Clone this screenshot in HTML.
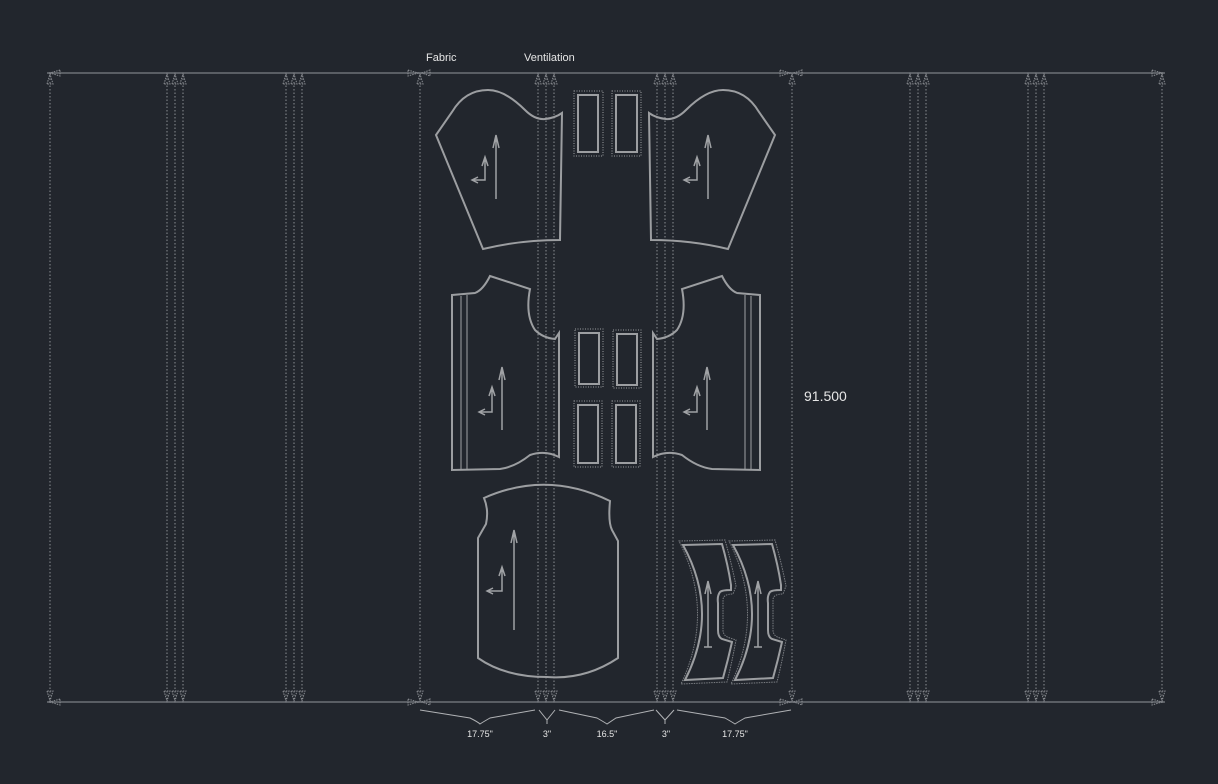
<!DOCTYPE html>
<html><head><meta charset="utf-8"><style>
html,body{margin:0;padding:0;background:#22262d;}
svg{display:block}
text{font-family:"Liberation Sans",sans-serif;fill:#e6e6e6}
</style></head><body>
<svg width="1218" height="784" viewBox="0 0 1218 784" xmlns="http://www.w3.org/2000/svg">
<rect width="1218" height="784" fill="#22262d"/>
<!-- main lines -->
<line x1="47" y1="73" x2="1165" y2="73" stroke="#5a5e64" stroke-width="2"/>
<line x1="47" y1="702" x2="1165" y2="702" stroke="#5a5e64" stroke-width="2"/>
<g stroke="#8a8d92" stroke-width="1" stroke-dasharray="1.5,2" fill="none">
<line x1="50" y1="75" x2="50" y2="700"/>
<line x1="167" y1="75" x2="167" y2="700"/><line x1="175" y1="75" x2="175" y2="700"/><line x1="183" y1="75" x2="183" y2="700"/>
<line x1="286" y1="75" x2="286" y2="700"/><line x1="294" y1="75" x2="294" y2="700"/><line x1="302" y1="75" x2="302" y2="700"/>
<line x1="420" y1="75" x2="420" y2="700"/>
<line x1="538" y1="75" x2="538" y2="700"/><line x1="546" y1="75" x2="546" y2="700"/><line x1="554" y1="75" x2="554" y2="700"/>
<line x1="657" y1="75" x2="657" y2="700"/><line x1="665" y1="75" x2="665" y2="700"/><line x1="673" y1="75" x2="673" y2="700"/>
<line x1="792" y1="75" x2="792" y2="700"/>
<line x1="910" y1="75" x2="910" y2="700"/><line x1="918" y1="75" x2="918" y2="700"/><line x1="926" y1="75" x2="926" y2="700"/>
<line x1="1028" y1="75" x2="1028" y2="700"/><line x1="1036" y1="75" x2="1036" y2="700"/><line x1="1044" y1="75" x2="1044" y2="700"/>
<line x1="1162" y1="75" x2="1162" y2="700"/>
</g>
<!-- arrowheads -->
<g stroke="#8a8d92" stroke-width="1" stroke-dasharray="1.5,1" fill="none">
<g id="tops">
<path d="M47 84 L50 74 L53 84 Z"/><path d="M164 84 L167 74 L170 84 Z"/><path d="M172 84 L175 74 L178 84 Z"/><path d="M180 84 L183 74 L186 84 Z"/>
<path d="M283 84 L286 74 L289 84 Z"/><path d="M291 84 L294 74 L297 84 Z"/><path d="M299 84 L302 74 L305 84 Z"/>
<path d="M417 84 L420 74 L423 84 Z"/>
<path d="M535 84 L538 74 L541 84 Z"/><path d="M543 84 L546 74 L549 84 Z"/><path d="M551 84 L554 74 L557 84 Z"/>
<path d="M654 84 L657 74 L660 84 Z"/><path d="M662 84 L665 74 L668 84 Z"/><path d="M670 84 L673 74 L676 84 Z"/>
<path d="M789 84 L792 74 L795 84 Z"/>
<path d="M907 84 L910 74 L913 84 Z"/><path d="M915 84 L918 74 L921 84 Z"/><path d="M923 84 L926 74 L929 84 Z"/>
<path d="M1025 84 L1028 74 L1031 84 Z"/><path d="M1033 84 L1036 74 L1039 84 Z"/><path d="M1041 84 L1044 74 L1047 84 Z"/>
<path d="M1159 84 L1162 74 L1165 84 Z"/>
</g>
<use href="#tops" transform="translate(0,775) scale(1,-1)"/>
<path d="M60 70 L50 73 L60 76 Z"/><path d="M408 70 L418 73 L408 76 Z"/><path d="M430 70 L422 73 L430 76 Z"/>
<path d="M780 70 L790 73 L780 76 Z"/><path d="M802 70 L794 73 L802 76 Z"/><path d="M1152 70 L1162 73 L1152 76 Z"/>
<path d="M60 699 L50 702 L60 705 Z"/><path d="M408 699 L418 702 L408 705 Z"/><path d="M430 699 L422 702 L430 705 Z"/>
<path d="M780 699 L790 702 L780 705 Z"/><path d="M802 699 L794 702 L802 705 Z"/><path d="M1152 699 L1162 702 L1152 705 Z"/>
</g>
<!-- labels -->
<text x="426" y="61" font-size="11">Fabric</text>
<text x="524" y="61" font-size="11">Ventilation</text>
<text x="804" y="401" font-size="14">91.500</text>
<!-- braces -->
<g stroke="#b0b2b5" stroke-width="1" fill="none">
<path d="M420 710 L470 718 Q478 722 480 724 Q483 722 490 718 L535 710"/>
<path d="M539 710 L547 720 L547 724 M547 720 L555 710"/>
<path d="M559 710 L597 718 Q604 722 607 724 Q610 722 616 718 L654 710"/>
<path d="M656 710 L665 720 L665 724 M665 720 L674 710"/>
<path d="M677 710 L725 718 Q732 722 735 724 Q738 722 745 718 L791 710"/>
</g>
<g font-size="9" text-anchor="middle">
<text x="480" y="737">17.75"</text><text x="547" y="737">3"</text><text x="607" y="737">16.5"</text><text x="666" y="737">3"</text><text x="735" y="737">17.75"</text>
</g>
<!-- pieces -->
<g stroke="#9c9ea1" stroke-width="2" fill="none">
<g id="sleeve">
<path d="M436 135 L452 112 Q465 90 488 90 Q505 90 525 110 Q535 120 545 119 Q555 118 562 113 L560 240 Q520 240 483 249 Z"/>
</g>
<use href="#sleeve" transform="translate(1211,0) scale(-1,1)"/>
<g id="body">
<path d="M452 295 L475 293 Q483 290 490 276 L530 289 Q525 315 535 330 Q543 338 555 339 L559 333 L559 457 Q545 450 530 455 Q515 467 500 469 L452 470 Z"/>
</g>
<use href="#body" transform="translate(1212,0) scale(-1,1)"/>
<path d="M484 498 Q547 470 610 501 Q608 522 612 530 L618 541 L618 658 Q585 680 547 677 Q505 677 478 658 L478 538 L486 524 Q489 510 484 498 Z"/>
<g id="waist">
<path d="M683 545 L722 544 Q728 565 731 585 L731 590 Q722 590 720 592 Q717 596 718 603 L718 630 Q718 637 722 639 L732 642 Q728 660 723 678 L685 680 Q720 612 683 545 Z"/>
<path d="M679 541 L725 540 Q732 565 736 586 L733 594 Q723 594 723 600 L723 630 Q723 636 730 638 L736 640 Q732 662 727 682 L681 684 Q715 612 679 541 Z" stroke="#7a7d82" stroke-width="1" stroke-dasharray="1.5,1"/>
</g>
<use href="#waist" transform="translate(50,0)"/>
</g>
<g stroke="#a0a2a5" stroke-width="1" fill="none">
<line x1="461" y1="296" x2="461" y2="470"/><line x1="467" y1="295" x2="467" y2="470"/>
<line x1="751" y1="296" x2="751" y2="470"/><line x1="745" y1="295" x2="745" y2="470"/>
</g>
<!-- rects -->
<g fill="none">
<g stroke="#9c9ea1" stroke-width="2">
<rect x="578" y="95" width="20" height="57"/><rect x="616" y="95" width="21" height="57"/>
<rect x="579" y="333" width="20" height="51"/><rect x="617" y="334" width="20" height="51"/>
<rect x="578" y="405" width="20" height="58"/><rect x="616" y="405" width="20" height="58"/>
</g>
<g stroke="#9c9ea1" stroke-width="1" stroke-dasharray="1,1.5">
<rect x="574" y="91" width="29" height="65"/><rect x="612" y="91" width="29" height="65"/>
<rect x="575" y="329" width="28" height="58"/><rect x="613" y="330" width="28" height="58"/>
<rect x="574" y="401" width="28" height="66"/><rect x="612" y="401" width="28" height="66"/>
</g>
</g>
<!-- grain arrows -->
<g stroke="#a0a2a5" stroke-width="1.5" fill="none">
<path d="M496 199 L496 135 M493 148 L496 135 L499 148"/>
<path d="M485 157 L485 180 L472 180 M482 166 L485 157 L488 166 M478 177 L472 180 L478 183"/>
<path d="M708 199 L708 135 M705 148 L708 135 L711 148"/>
<path d="M697 157 L697 180 L684 180 M694 166 L697 157 L700 166 M690 177 L684 180 L690 183"/>
<path d="M502 430 L502 367 M499 380 L502 367 L505 380"/>
<path d="M492 387 L492 412 L479 412 M489 396 L492 387 L495 396 M485 409 L479 412 L485 415"/>
<path d="M707 430 L707 367 M704 380 L707 367 L710 380"/>
<path d="M697 387 L697 412 L684 412 M694 396 L697 387 L700 396 M690 409 L684 412 L690 415"/>
<path d="M514 630 L514 530 M511 543 L514 530 L517 543"/>
<path d="M502 567 L502 591 L487 591 M499 576 L502 567 L505 576 M493 588 L487 591 L493 594"/>
<path d="M708 647 L708 581 M705 594 L708 581 L711 594 M704 647 L712 647"/>
<path d="M758 647 L758 581 M755 594 L758 581 L761 594 M754 647 L762 647"/>
</g>
</svg>
</body></html>
